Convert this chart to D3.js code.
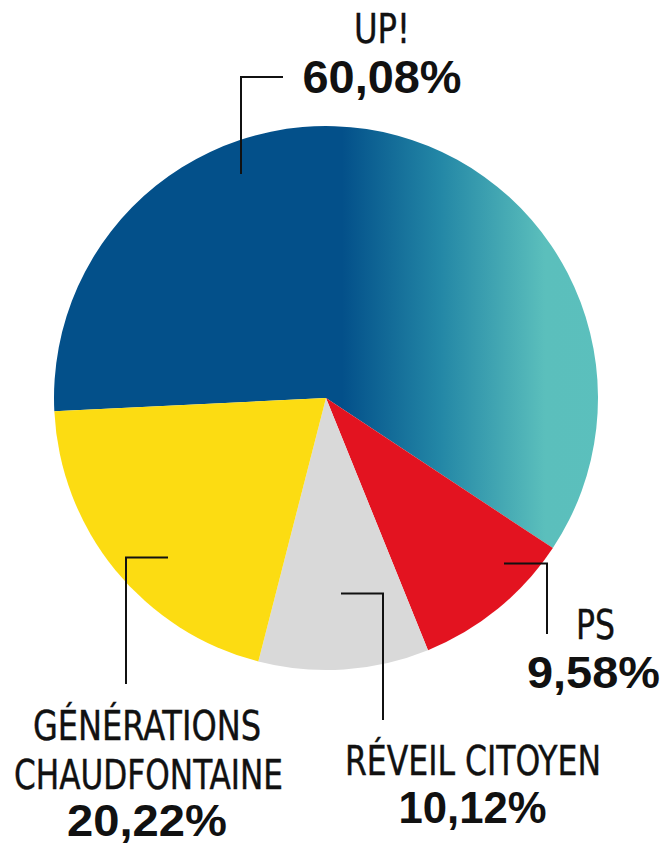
<!DOCTYPE html>
<html>
<head>
<meta charset="utf-8">
<script src="https://cdn.jsdelivr.net/npm/d3@7"></script>
<style>
  html, body { margin: 0; padding: 0; background: #ffffff; }
  svg { display: block; }
  .name { font-family: "Liberation Sans Narrow", "DejaVu Sans Condensed", "Roboto", sans-serif; font-weight: normal; fill: #111; stroke: #111; stroke-width: 0.4; }
  .pct { font-family: "Liberation Sans", "Roboto", Arial, sans-serif; font-weight: bold; fill: #111; }
</style>
</head>
<body>
<svg id="chart" width="662" height="845"></svg>
<script>
// ---- data ----
const parties = ["UP!", "PS", "RÉVEIL CITOYEN", "GÉNÉRATIONS CHAUDFONTAINE"];
const shares = [60.08, 9.58, 10.12, 20.22];
const shareLabels = ["60,08%", "9,58%", "10,12%", "20,22%"];
const colors = ["url(#upGrad)", "#e31320", "#d9d9d9", "#fcdc12"];

// ---- layout ----
const svg = d3.select("#chart");
const cx = 326, cy = 398, R = 272;
const startAngle = -92.8 * Math.PI / 180;

const defs = svg.append("defs");
// gradient in the pie group's coordinates (origin at pie centre)
const grad = defs.append("linearGradient")
  .attr("id", "upGrad").attr("gradientUnits", "userSpaceOnUse")
  .attr("x1", -cx).attr("y1", 0).attr("x2", 662 - cx).attr("y2", 0);
[[0, "#03508a"], [342 / 662, "#03508a"], [440 / 662, "#2387a6"], [545 / 662, "#5bbfbc"], [1, "#5bc0bd"]]
  .forEach(([o, c]) => grad.append("stop").attr("offset", o).attr("stop-color", c));

const data = parties.map((p, i) => ({ party: p, value: shares[i], label: shareLabels[i], color: colors[i] }));

const pie = d3.pie().value(d => d.value).sort(null)
  .startAngle(startAngle).endAngle(startAngle + 2 * Math.PI);
const arc = d3.arc().innerRadius(0).outerRadius(R);

const g = svg.append("g").attr("transform", `translate(${cx},${cy})`);
g.selectAll("path").data(pie(data)).join("path")
  .attr("d", arc)
  .attr("fill", d => d.data.color);

// ---- leader lines ----
const leaders = [
  [[283, 77], [241, 77], [241, 174]],
  [[504, 563.5], [547, 563.5], [547, 634]],
  [[341, 593.5], [383, 593.5], [383, 720]],
  [[168, 557.5], [126, 557.5], [126, 684]]
];
const line = d3.line();
svg.selectAll("path.leader").data(leaders).join("path")
  .attr("class", "leader")
  .attr("d", line)
  .attr("fill", "none")
  .attr("stroke", "#111")
  .attr("stroke-width", 2);

// ---- labels ----
const texts = [
  { t: parties[0], cls: "name", x: 382, y: 43, size: 41, w: 56 },
  { t: shareLabels[0], cls: "pct", x: 382, y: 93, size: 46, w: 159 },
  { t: "PS", cls: "name", x: 595.5, y: 639, size: 41, w: 39 },
  { t: shareLabels[1], cls: "pct", x: 593.5, y: 688, size: 45, w: 133 },
  { t: parties[2], cls: "name", x: 473, y: 775, size: 40, w: 256 },
  { t: shareLabels[2], cls: "pct", x: 472.5, y: 823, size: 45, w: 148 },
  { t: "GÉNÉRATIONS", cls: "name", x: 147, y: 740, size: 40, w: 228 },
  { t: "CHAUDFONTAINE", cls: "name", x: 148.5, y: 789, size: 40, w: 269 },
  { t: shareLabels[3], cls: "pct", x: 147, y: 836, size: 45, w: 160 }
];
svg.selectAll("text.lbl").data(texts).join("text")
  .attr("class", d => "lbl " + d.cls)
  .attr("x", d => d.x - d.w / 2)
  .attr("y", d => d.y)
  .attr("font-size", d => d.size)
  .attr("textLength", d => d.w)
  .attr("lengthAdjust", "spacingAndGlyphs")
  .text(d => d.t);
</script>
</body>
</html>
